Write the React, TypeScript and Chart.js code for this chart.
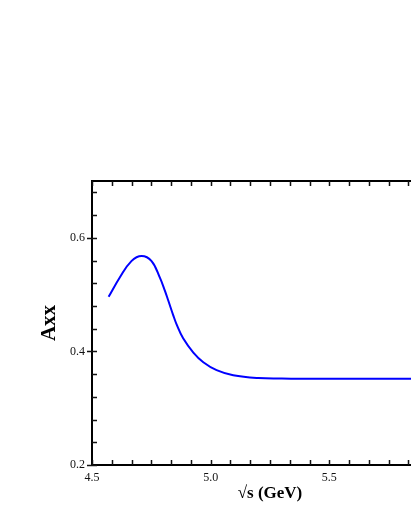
import React, { useEffect, useRef } from "react";
import { Chart, registerables } from "chart.js";

Chart.register(...registerables);

const sqrtS = [4.57, 4.617, 4.666, 4.709, 4.751, 4.786, 4.807, 4.821, 4.842, 4.856, 4.884, 4.927, 4.969, 5.025, 5.095, 5.201, 5.3, 5.377, 5.5, 5.588, 5.7, 5.846, 5.9];
const axx = [0.496, 0.530, 0.559, 0.568, 0.559, 0.530, 0.507, 0.490, 0.464, 0.448, 0.423, 0.398, 0.381, 0.367, 0.358, 0.353, 0.3522, 0.352, 0.352, 0.352, 0.352, 0.352, 0.352];
const xTicks = [4.5, 5.0, 5.5];
const yTicks = [0.2, 0.4, 0.6];
const xMin = 4.5;
const xMax = 6.0;
const yMin = 0.2;
const yMax = 0.7;
const xMinorStep = 1 / 12;
const yMinorStep = 0.04;

const FONT = "'Liberation Serif', 'Times New Roman', serif";

const frameTicks = {
  id: "frameTicks",
  afterDraw(chart: any) {
    const { ctx, chartArea } = chart;
    const xs = chart.scales.x;
    const ys = chart.scales.y;
    ctx.save();
    ctx.strokeStyle = "#000";
    ctx.lineWidth = 2;
    ctx.beginPath();
    ctx.moveTo(chartArea.left - 1, chartArea.top);
    ctx.lineTo(chartArea.right, chartArea.top);
    ctx.lineTo(chartArea.right, chartArea.bottom);
    ctx.stroke();
    ctx.lineWidth = 1.5;
    ctx.strokeStyle = "#111";
    const len = 5;
    for (let i = 0; ; i++) {
      const v = xMin + i * xMinorStep;
      if (v > xMax + 1e-6) break;
      const px = Math.round(xs.getPixelForValue(v)) + 0.5;
      ctx.beginPath();
      ctx.moveTo(px, chartArea.bottom);
      ctx.lineTo(px, chartArea.bottom - len);
      ctx.moveTo(px, chartArea.top);
      ctx.lineTo(px, chartArea.top + len);
      ctx.stroke();
    }
    for (let i = 0; ; i++) {
      const v = yMin + i * yMinorStep;
      if (v > yMax + 1e-6) break;
      const py = Math.round(ys.getPixelForValue(v)) + 0.5;
      const major = yTicks.some((t) => Math.abs(t - v) < 1e-6);
      ctx.beginPath();
      ctx.moveTo(chartArea.left - (major ? len : 0), py);
      ctx.lineTo(chartArea.left + len, py);
      ctx.moveTo(chartArea.right, py);
      ctx.lineTo(chartArea.right - len, py);
      ctx.stroke();
    }
    ctx.restore();
  },
};

export default function App() {
  const ref = useRef<HTMLCanvasElement | null>(null);
  useEffect(() => {
    if (!ref.current) return;
    const chart = new Chart(ref.current, {
      type: "line",
      data: {
        datasets: [
          {
            data: sqrtS.map((x, i) => ({ x, y: axx[i] })),
            borderColor: "#0000ff",
            borderWidth: 2,
            pointRadius: 0,
            tension: 0.4,
            fill: false,
          },
        ],
      },
      options: {
        animation: false,
        responsive: false,
        maintainAspectRatio: false,
        layout: { padding: { top: 181, right: 12, left: 0, bottom: 0 } },
        plugins: { legend: { display: false }, tooltip: { enabled: false } },
        scales: {
          x: {
            type: "linear",
            min: xMin,
            max: xMax,
            afterBuildTicks: (s: any) => {
              s.ticks = xTicks.map((v) => ({ value: v }));
            },
            afterFit: (s: any) => {
              s.height = 67;
            },
            grid: { display: false, drawTicks: false },
            border: { display: true, color: "#000", width: 2 },
            ticks: {
              padding: 6,
              color: "#111",
              font: { family: FONT, size: 12 },
              maxRotation: 0,
              callback: (v: any) => Number(v).toFixed(1),
            },
            title: {
              display: true,
              text: "√s (GeV)",
              color: "#000",
              font: { family: FONT, size: 17, weight: "bold" },
              padding: { top: 0, bottom: 28 },
            },
          },
          y: {
            type: "linear",
            min: yMin,
            max: yMax,
            afterBuildTicks: (s: any) => {
              s.ticks = yTicks.map((v) => ({ value: v }));
            },
            afterFit: (s: any) => {
              s.width = 92;
            },
            grid: { display: false, drawTicks: false },
            border: { display: true, color: "#000", width: 2 },
            ticks: {
              padding: 7,
              color: "#111",
              font: { family: FONT, size: 12 },
              callback: (v: any) => Number(v).toFixed(1),
            },
            title: {
              display: true,
              text: "Axx",
              color: "#000",
              font: { family: FONT, size: 21, weight: "bold" },
              padding: { top: 37, bottom: 0 },
            },
          },
        },
      },
      plugins: [frameTicks],
    } as any);
    return () => chart.destroy();
  }, []);
  return (
    <div style={{ position: "absolute", left: 0, top: 0, width: 411, height: 532, overflow: "hidden", background: "#fff" }}>
      <canvas ref={ref} width={460} height={532} style={{ display: "block", width: 460, height: 532 }} />
    </div>
  );
}
